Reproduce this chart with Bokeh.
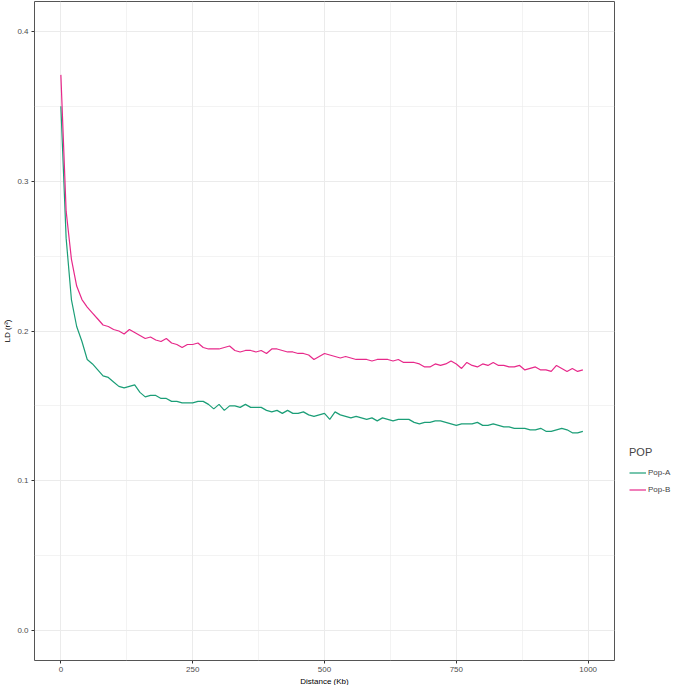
from bokeh.plotting import figure
from bokeh.models import FixedTicker, Legend, LegendItem, PrintfTickFormatter
from bokeh.embed import file_html
from bokeh.resources import INLINE

distance = [0, 10, 20, 30, 40, 50, 60, 70, 80, 90,
            100, 110, 120, 130, 140, 150, 160, 170, 180, 190,
            200, 210, 220, 230, 240, 250, 260, 270, 280, 290,
            300, 310, 320, 330, 340, 350, 360, 370, 380, 390,
            400, 410, 420, 430, 440, 450, 460, 470, 480, 490,
            500, 510, 520, 530, 540, 550, 560, 570, 580, 590,
            600, 610, 620, 630, 640, 650, 660, 670, 680, 690,
            700, 710, 720, 730, 740, 750, 760, 770, 780, 790,
            800, 810, 820, 830, 840, 850, 860, 870, 880, 890,
            900, 910, 920, 930, 940, 950, 960, 970, 980, 990]

pop_a = [0.350, 0.262, 0.221, 0.203, 0.193, 0.181, 0.178, 0.174, 0.170, 0.169,
         0.166, 0.163, 0.162, 0.163, 0.164, 0.159, 0.156, 0.157, 0.157, 0.155,
         0.155, 0.153, 0.153, 0.152, 0.152, 0.152, 0.153, 0.153, 0.151, 0.148,
         0.151, 0.147, 0.150, 0.150, 0.149, 0.151, 0.149, 0.149, 0.149, 0.147,
         0.146, 0.147, 0.145, 0.147, 0.145, 0.145, 0.146, 0.144, 0.143, 0.144,
         0.145, 0.141, 0.146, 0.144, 0.143, 0.142, 0.143, 0.142, 0.141, 0.142,
         0.140, 0.142, 0.141, 0.140, 0.141, 0.141, 0.141, 0.139, 0.138, 0.139,
         0.139, 0.140, 0.140, 0.139, 0.138, 0.137, 0.138, 0.138, 0.138, 0.139,
         0.137, 0.137, 0.138, 0.137, 0.136, 0.136, 0.135, 0.135, 0.135, 0.134,
         0.134, 0.135, 0.133, 0.133, 0.134, 0.135, 0.134, 0.132, 0.132, 0.133]

pop_b = [0.371, 0.280, 0.248, 0.230, 0.221, 0.216, 0.212, 0.208, 0.204, 0.203,
         0.201, 0.200, 0.198, 0.201, 0.199, 0.197, 0.195, 0.196, 0.194, 0.193,
         0.195, 0.192, 0.191, 0.189, 0.191, 0.191, 0.192, 0.189, 0.188, 0.188,
         0.188, 0.189, 0.190, 0.187, 0.186, 0.187, 0.187, 0.186, 0.187, 0.185,
         0.188, 0.188, 0.187, 0.186, 0.186, 0.185, 0.185, 0.184, 0.181, 0.183,
         0.185, 0.184, 0.183, 0.182, 0.183, 0.182, 0.181, 0.181, 0.181, 0.180,
         0.181, 0.181, 0.181, 0.180, 0.181, 0.179, 0.179, 0.179, 0.178, 0.176,
         0.176, 0.178, 0.177, 0.178, 0.180, 0.178, 0.175, 0.179, 0.177, 0.176,
         0.178, 0.177, 0.179, 0.177, 0.177, 0.176, 0.176, 0.177, 0.174, 0.175,
         0.176, 0.174, 0.174, 0.173, 0.177, 0.175, 0.173, 0.175, 0.173, 0.174]

series_names = ["Pop-A", "Pop-B"]
series_colors = ["#1B9E77", "#E7298A"]
x_ticks = [0, 250, 500, 750, 1000]
x_minor = [125, 375, 625, 875]
y_ticks = [0.0, 0.1, 0.2, 0.3, 0.4]
y_minor = [0.05, 0.15, 0.25, 0.35]

p = figure(frame_width=580, frame_height=659, output_backend="svg", toolbar_location=None,
           x_range=(-50, 1050), y_range=(-0.02, 0.42),
           min_border_top=1, min_border_bottom=2, min_border_left=0, min_border_right=0)

r_a = p.line(distance, pop_a, line_color=series_colors[0], line_width=1.2)
r_b = p.line(distance, pop_b, line_color=series_colors[1], line_width=1.2)

p.xaxis.ticker = FixedTicker(ticks=x_ticks, minor_ticks=x_minor)
p.yaxis.ticker = FixedTicker(ticks=y_ticks, minor_ticks=y_minor)
p.yaxis.formatter = PrintfTickFormatter(format="%.1f")

for ax in (p.xaxis[0], p.yaxis[0]):
    ax.axis_line_color = None
    ax.major_tick_line_color = "#333333"
    ax.major_tick_out = 3
    ax.major_tick_in = 0
    ax.minor_tick_line_color = None
    ax.major_label_text_font = "Liberation Sans"
    ax.major_label_text_font_size = "8px"
    ax.major_label_text_color = "#4D4D4D"
    ax.major_label_standoff = 2
    ax.axis_label_text_font = "Liberation Sans"
    ax.axis_label_text_font_size = "8px"
    ax.axis_label_text_font_style = "normal"
    ax.axis_label_text_color = "#000000"
    ax.axis_label_standoff = 2

p.xaxis.axis_label = "Distance (Kb)"
p.yaxis.axis_label = "LD (r²)"

for g in (p.xgrid[0], p.ygrid[0]):
    g.grid_line_color = "#EBEBEB"
    g.grid_line_width = 1
    g.minor_grid_line_color = "#EBEBEB"
    g.minor_grid_line_width = 0.6

p.outline_line_color = "#555555"
p.outline_line_width = 1
p.background_fill_color = "white"
p.border_fill_color = "white"

legend = Legend(items=[LegendItem(label=series_names[0], renderers=[r_a]),
                       LegendItem(label=series_names[1], renderers=[r_b])],
                title="POP", location=(15, 162))
legend.title_text_font = "Liberation Sans"
legend.title_text_font_size = "11px"
legend.title_text_font_style = "normal"
legend.title_standoff = 6
legend.label_text_font = "Liberation Sans"
legend.label_text_font_size = "8px"
legend.glyph_width = 17
legend.glyph_height = 17
legend.label_standoff = 2
legend.spacing = 0
legend.padding = 2
legend.margin = 9
legend.border_line_color = None
legend.background_fill_alpha = 0
p.add_layout(legend, "right")

open("out.html", "w").write(file_html(p, INLINE))
